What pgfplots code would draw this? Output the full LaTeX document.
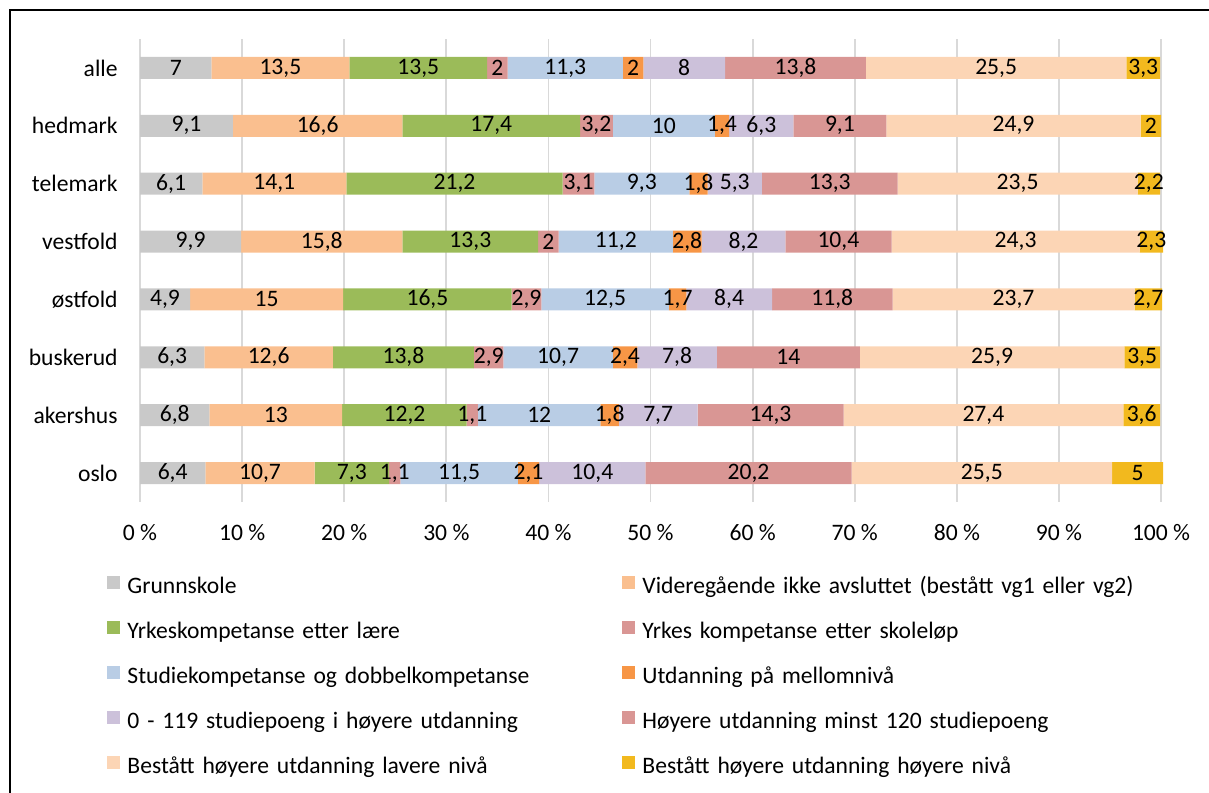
\documentclass[border=0pt]{standalone}
\usepackage{pgfplots}
\pgfplotsset{compat=1.18}
\usepackage{pgfplotstable}
\usepackage{fontspec}
\setmainfont{Carlito}
\definecolor{cA}{HTML}{C9C9C9}
\definecolor{cB}{HTML}{FABF8F}
\definecolor{cC}{HTML}{9BBB59}
\definecolor{cD}{HTML}{D99694}
\definecolor{cE}{HTML}{B9CDE5}
\definecolor{cF}{HTML}{F79646}
\definecolor{cG}{HTML}{CCC1DA}
\definecolor{cH}{HTML}{D99694}
\definecolor{cI}{HTML}{FCD5B5}
\definecolor{cJ}{HTML}{F2B91E}
\definecolor{gridgray}{HTML}{D9D9D9}
\pgfplotstableread{
y a b c d e f g h i j
7 7 13.5 13.5 2 11.3 2 8 13.8 25.5 3.3
6 9.1 16.6 17.4 3.2 10 1.4 6.3 9.1 24.9 2
5 6.1 14.1 21.2 3.1 9.3 1.8 5.3 13.3 23.5 2.2
4 9.9 15.8 13.3 2 11.2 2.8 8.2 10.4 24.3 2.3
3 4.9 15 16.5 2.9 12.5 1.7 8.4 11.8 23.7 2.7
2 6.3 12.6 13.8 2.9 10.7 2.4 7.8 14 25.9 3.5
1 6.8 13 12.2 1.1 12 1.8 7.7 14.3 27.4 3.6
0 6.4 10.7 7.3 1.1 11.5 2.1 10.4 20.2 25.5 5
}\data
\newcommand\seg[3]{\addplot[fill=#2, draw=none] table[x=#1, y=y, meta=#1]{\data};
\addlegendentry{\mbox{#3}}}
\newcommand\lfont{\fontsize{11.8}{14}\selectfont}
\begin{document}
\begin{tikzpicture}
\useasboundingbox (0,0) rectangle (604.5pt,396pt);
\draw[line width=1pt] (5pt,-2pt) -- (5pt,391pt) -- (606pt,391pt);
\begin{axis}[
  at={(70pt,145pt)}, anchor=south west,
  width=511.8pt, height=231.5pt, scale only axis,
  xbar stacked, bar width=11pt,
  xmin=0, xmax=100.25, ymin=-0.5, ymax=7.5,
  axis line style={draw=none},
  major tick length=0pt,
  xmajorgrids, grid style={draw=gridgray, line width=0.9pt},
  xtick={0,10,...,100},
  xticklabels={0 \%,10 \%,20 \%,30 \%,40 \%,50 \%,60 \%,70 \%,80 \%,90 \%,100 \%},
  ytick={0,...,7},
  yticklabels={oslo,akershus,buskerud,østfold,vestfold,telemark,hedmark,alle},
  tick label style={font=\lfont, inner sep=0pt},
  xticklabel style={yshift=-11.1pt},
  yticklabel style={xshift=-11pt},
  /pgf/number format/assume math mode=true,
  point meta=explicit,
  nodes near coords={\pgfmathprintnumber[use comma,fixed,precision=1]{\pgfplotspointmeta}},
  every node near coord/.append style={anchor=center, font=\lfont, inner sep=0pt, text=black},
  legend columns=2,
  legend style={at={(axis description cs:-0.0322,-0.1598)}, anchor=north west, draw=none, fill=none, inner sep=0pt, row sep=11pt, column sep=0pt, nodes={text width=244pt, inner xsep=3.5pt, inner ysep=0pt, text height=8pt, text depth=3pt, font=\lfont, align=left}},
  legend image code/.code={\fill[#1] (0pt,-0.5pt) rectangle (6.5pt,6pt);},
]
\seg{a}{cA}{Grunnskole}
\seg{b}{cB}{Videregående ikke avsluttet (bestått vg1 eller vg2)}
\seg{c}{cC}{Yrkeskompetanse etter lære}
\seg{d}{cD}{Yrkes kompetanse etter skoleløp}
\seg{e}{cE}{Studiekompetanse og dobbelkompetanse}
\seg{f}{cF}{Utdanning på mellomnivå}
\seg{g}{cG}{0 - 119 studiepoeng i høyere utdanning}
\seg{h}{cH}{Høyere utdanning minst 120 studiepoeng}
\seg{i}{cI}{Bestått høyere utdanning lavere nivå}
\seg{j}{cJ}{Bestått høyere utdanning høyere nivå}
\end{axis}
\end{tikzpicture}
\end{document}
